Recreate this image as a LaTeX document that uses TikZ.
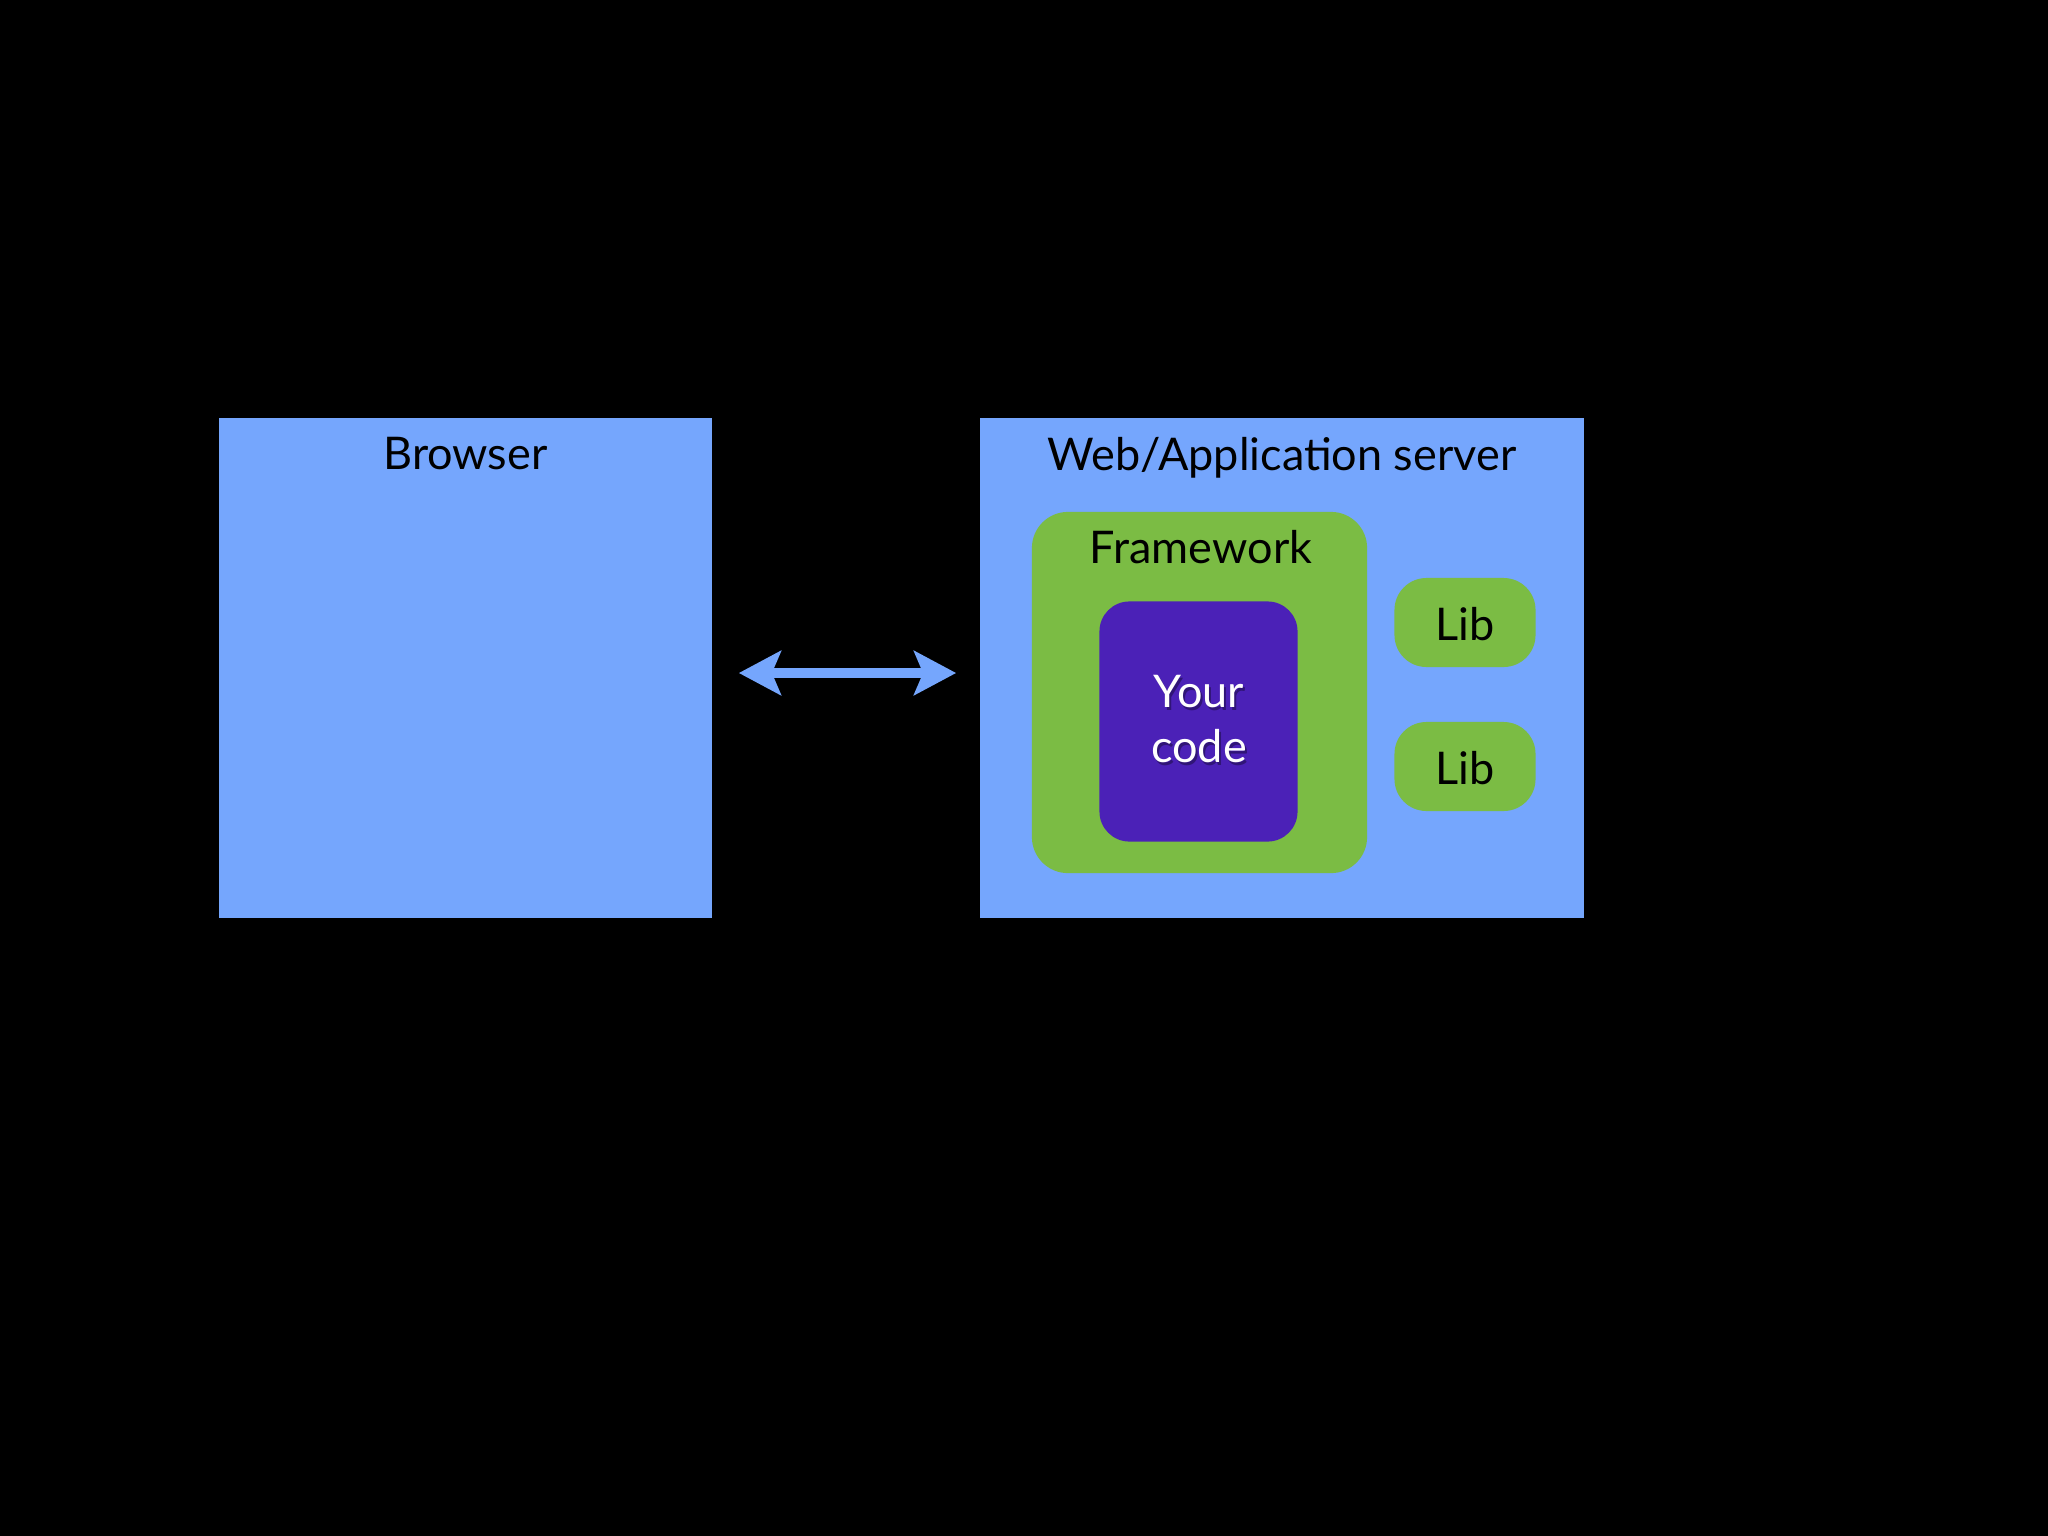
\documentclass[tikz,border=0pt]{standalone}
\usepackage{fontspec}
\setmainfont{Lato}
\usetikzlibrary{arrows.meta}
\definecolor{bgblue}{RGB}{117,166,253}
\definecolor{fwgreen}{RGB}{123,188,68}
\definecolor{codepurple}{RGB}{75,33,183}
\begin{document}
\begin{tikzpicture}[x=0.01cm,y=-0.01cm,
  panel/.style={fill=bgblue, draw=none, inner sep=0pt},
  greenbox/.style={fill=fwgreen, draw=none, inner sep=0pt},
  codebox/.style={fill=codepurple, draw=none, inner sep=0pt, rounded corners=0.3cm},
  lbl/.style={anchor=base, inner sep=0pt, font=\fontsize{12.8pt}{15pt}\selectfont, text=black},
  wlbl/.style={lbl, text=white},
  shlbl/.style={lbl, text=black, opacity=0.35},
  link/.style={draw=bgblue, line width=0.1cm,
    {Stealth[length=0.42cm,width=0.44cm,inset=0.09cm]}-{Stealth[length=0.42cm,width=0.44cm,inset=0.09cm]}}
]
\useasboundingbox (0,0) rectangle (2048,1536);
\fill[black] (0,0) rectangle (2048,1536);

% panels
\node[panel, minimum width=4.93cm, minimum height=5cm] (browser) at (465.5,668) {};
\node[panel, minimum width=6.04cm, minimum height=5cm] (server) at (1282,668) {};
\node[lbl] (browserlbl) at (465.5,469) {Browser};
\node[lbl] (serverlbl) at (1282,470) {Web/Application server};

% framework
\node[greenbox, rounded corners=0.36cm, minimum width=3.35cm, minimum height=3.61cm] (framework) at (1199.5,692.5) {};
\node[lbl] (frameworklbl) at (1201,563) {Framework};

% your code
\node[codebox, minimum width=1.98cm, minimum height=2.4cm] (code) at (1198.5,721.5) {};
\node[shlbl] (yourshadow) at (1201,710) {Your};
\node[shlbl] (codeshadow) at (1201,765) {code};
\node[wlbl] (yourlbl) at (1199,707) {Your};
\node[wlbl] (codelbl) at (1199,762) {code};

% libs
\node[greenbox, rounded corners=0.32cm, minimum width=1.41cm, minimum height=0.89cm] (libA) at (1465,622.5) {};
\node[lbl] (libAlbl) at (1465,640) {Lib};
\node[greenbox, rounded corners=0.32cm, minimum width=1.41cm, minimum height=0.89cm] (libB) at (1465,766.5) {};
\node[lbl] (libBlbl) at (1465,784) {Lib};

% connector
\draw[link, shorten <=0.26cm, shorten >=0.23cm] ([yshift=-0.05cm]browser.east) -- ([yshift=-0.05cm]server.west);
\end{tikzpicture}
\end{document}
